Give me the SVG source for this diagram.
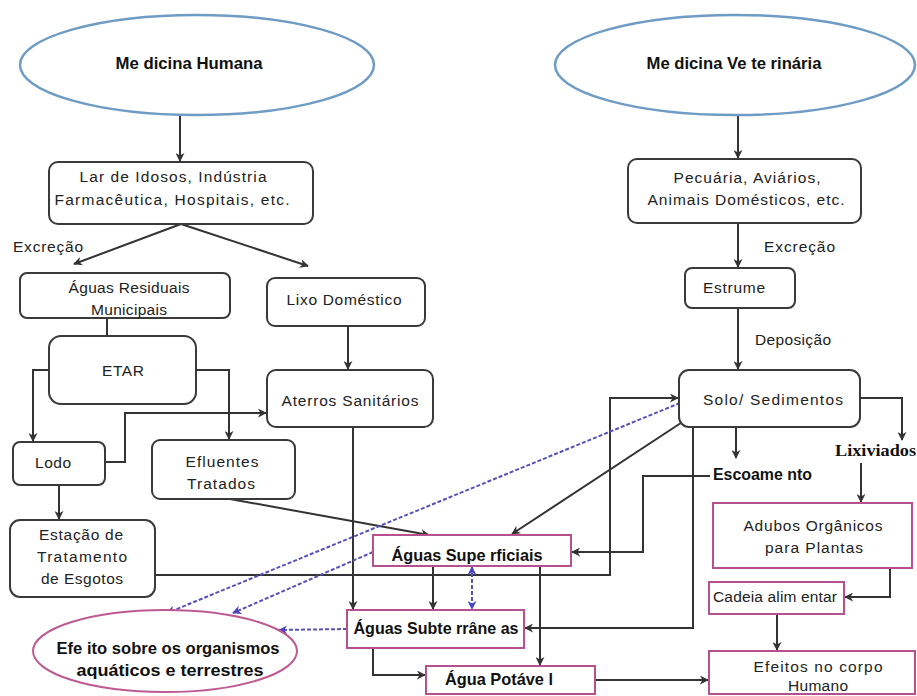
<svg xmlns="http://www.w3.org/2000/svg" width="917" height="696" viewBox="0 0 917 696">
<defs>
<marker id="ah" viewBox="0 0 10 10" refX="9" refY="5" markerWidth="9" markerHeight="9" markerUnits="userSpaceOnUse" orient="auto"><path d="M0,0 L10,5 L0,10 L3,5 z" fill="#333"/></marker>
<marker id="bh" viewBox="0 0 10 10" refX="9" refY="5" markerWidth="9" markerHeight="9" markerUnits="userSpaceOnUse" orient="auto-start-reverse"><path d="M0,0 L10,5 L0,10 L3,5 z" fill="#4a44c0"/></marker>
<style>
.c{fill:none;stroke:#333;stroke-width:2;marker-end:url(#ah)}
.cn{fill:none;stroke:#333;stroke-width:2}
.d{fill:none;stroke:#5553b8;stroke-width:2;stroke-dasharray:4 2;marker-end:url(#bh)}
.box{fill:#fff;stroke:#3a3a3a;stroke-width:2}
.pk{fill:#fff;stroke:#b8508f;stroke-width:2}
.ell{fill:#fff;stroke:#6f9cc4;stroke-width:2.5}
.pell{fill:#fff;stroke:#bd5a92;stroke-width:2}
.t{font-family:"Liberation Sans",Arial,sans-serif;font-size:15.5px;fill:#222;text-anchor:middle}
.tl{font-family:"Liberation Sans",Arial,sans-serif;font-size:15.5px;fill:#222}
.b{font-family:"Liberation Sans",Arial,sans-serif;font-size:17px;font-weight:bold;fill:#111;text-anchor:middle}
.bl{font-family:"Liberation Sans",Arial,sans-serif;font-size:17px;font-weight:bold;fill:#111}
.bs{font-family:"Liberation Serif","Times New Roman",serif;font-size:17px;font-weight:bold;fill:#111}
</style>
</defs>
<rect width="917" height="696" fill="#fff"/>
<g id="connectors">
<path class="c" d="M180,115 V161"/>
<path class="c" d="M738,115 V158"/>
<path class="c" d="M181,224 L74,264"/>
<path class="c" d="M181,224 L308,266"/>
<path class="cn" d="M107,318 V336"/>
<path class="c" d="M348,326 V369"/>
<path class="c" d="M49,370 H33 V441"/>
<path class="c" d="M196,370 H229 V439"/>
<path class="c" d="M105,462 H125 V413 H266"/>
<path class="c" d="M59,485 V519"/>
<path class="c" d="M230,499 L429,535"/>
<path class="c" d="M353,427 V609"/>
<path class="c" d="M155,575 H610 V398 H678"/>
<path class="c" d="M690,417 L512,534"/>
<path class="c" d="M693,417 V628 H525"/>
<path class="c" d="M738,223 V267"/>
<path class="c" d="M738,308 V369"/>
<path class="c" d="M736,427 V458"/>
<path class="c" d="M860,398 H902 V440"/>
<path class="c" d="M710,476 H643 V552 H572"/>
<path class="c" d="M861,463 V502"/>
<path class="c" d="M890,568 V597 H845"/>
<path class="c" d="M777,614 V650"/>
<path class="c" d="M433,566 V609"/>
<path class="c" d="M540,566 V665"/>
<path class="c" d="M373,648 V675 H425"/>
<path class="c" d="M595,680 H708"/>
<path class="d" d="M680,403 L167,613"/>
<path class="d" d="M373,552 L233,613"/>
<path class="d" d="M347,629 L279,630"/>
<path class="d" d="M472,567 V609" style="marker-start:url(#bh)"/>
</g>
<g id="medicina-humana"><ellipse class="ell" cx="197" cy="65" rx="177" ry="50"/><text class="b" x="189" y="69" textLength="147" lengthAdjust="spacingAndGlyphs">Me dicina Humana</text></g>
<g id="medicina-veterinaria"><ellipse class="ell" cx="735" cy="65" rx="180" ry="50"/><text class="b" x="734" y="69" textLength="175" lengthAdjust="spacingAndGlyphs">Me dicina Ve te rinária</text></g>
<g id="lar-idosos"><rect class="box" x="49" y="162" width="264" height="62" rx="9"/><text class="t" x="173" y="182" textLength="187">Lar de Idosos, Indústria</text><text class="t" x="172" y="205" textLength="235">Farmacêutica,  Hospitais,  etc.</text></g>
<g id="pecuaria"><rect class="box" x="628" y="159" width="233" height="64" rx="9"/><text class="t" x="747" y="183" textLength="147">Pecuária,  Aviários,</text><text class="t" x="746" y="205" textLength="197">Animais Domésticos,  etc.</text></g>
<text class="tl" x="13" y="252" textLength="70">Excreção</text>
<text class="tl" x="764" y="252" textLength="71">Excreção</text>
<text class="tl" x="755" y="345" textLength="76">Deposição</text>
<g id="aguas-residuais"><rect class="box" x="20" y="273" width="210" height="45" rx="7"/><text class="t" x="129" y="293" textLength="121">Águas Residuais</text><text class="t" x="129" y="315" textLength="76">Municipais</text></g>
<g id="lixo-domestico"><rect class="box" x="267" y="278" width="158" height="48" rx="8"/><text class="t" x="344" y="305" textLength="115">Lixo Doméstico</text></g>
<g id="etar"><rect class="box" x="49" y="336" width="147" height="68" rx="12"/><text class="t" x="123" y="376" textLength="42">ETAR</text></g>
<g id="aterros"><rect class="box" x="267" y="370" width="166" height="57" rx="9"/><text class="t" x="350" y="406" textLength="137">Aterros Sanitários</text></g>
<g id="lodo"><rect class="box" x="13" y="442" width="92" height="43" rx="7"/><text class="t" x="53" y="468" textLength="36">Lodo</text></g>
<g id="efluentes"><rect class="box" x="152" y="440" width="143" height="59" rx="8"/><text class="t" x="222" y="467" textLength="73">Efluentes</text><text class="t" x="221" y="489" textLength="68">Tratados</text></g>
<g id="estacao"><rect class="box" x="10" y="520" width="145" height="77" rx="10"/><text class="t" x="81" y="540" textLength="84">Estação  de</text><text class="t" x="82" y="562" textLength="90">Tratamento</text><text class="t" x="82" y="584" textLength="82">de Esgotos</text></g>
<g id="estrume"><rect class="box" x="685" y="268" width="110" height="40" rx="7"/><text class="t" x="734" y="293" textLength="62">Estrume</text></g>
<g id="solo"><rect class="box" x="679" y="370" width="181" height="57" rx="10"/><text class="t" x="773" y="405" textLength="140">Solo/ Sedimentos</text></g>
<g id="escoamento"><text class="bl" x="713" y="480" textLength="99" lengthAdjust="spacingAndGlyphs">Escoame nto</text></g>
<g id="lixiviados"><text class="bs" x="835" y="456" textLength="81" lengthAdjust="spacingAndGlyphs">Lixiviados</text></g>
<g id="adubos"><rect class="pk" x="713" y="503" width="199" height="65"/><text class="t" x="813" y="531" textLength="139">Adubos Orgânicos</text><text class="t" x="814" y="553" textLength="98">para Plantas</text></g>
<g id="cadeia"><rect class="pk" x="709" y="582" width="135" height="32"/><text class="t" x="775" y="602" textLength="124">Cadeia alim entar</text></g>
<g id="efeitos-corpo"><rect class="pk" x="709" y="651" width="206" height="43"/><text class="t" x="818" y="672" textLength="129">Efeitos no corpo</text><text class="t" x="818" y="691" textLength="60">Humano</text></g>
<g id="aguas-superficiais"><rect class="pk" x="373" y="535" width="198" height="31"/><text class="b" x="467" y="561" textLength="151" lengthAdjust="spacingAndGlyphs">Águas Supe rficiais</text></g>
<g id="aguas-subterraneas"><rect class="pk" x="347" y="610" width="177" height="38"/><text class="b" x="436" y="634" textLength="165" lengthAdjust="spacingAndGlyphs">Águas Subte rrâne as</text></g>
<g id="agua-potavel"><rect class="pk" x="426" y="666" width="169" height="28"/><text class="b" x="499" y="685" textLength="108" lengthAdjust="spacingAndGlyphs">Água Potáve l</text></g>
<g id="efeito-organismos"><ellipse class="pell" cx="165" cy="651" rx="132" ry="41"/><text class="b" x="168" y="654" textLength="223" lengthAdjust="spacingAndGlyphs">Efe ito sobre os organismos</text><text class="b" x="170" y="676" textLength="187" lengthAdjust="spacingAndGlyphs">aquáticos e terrestres</text></g>
</svg>
